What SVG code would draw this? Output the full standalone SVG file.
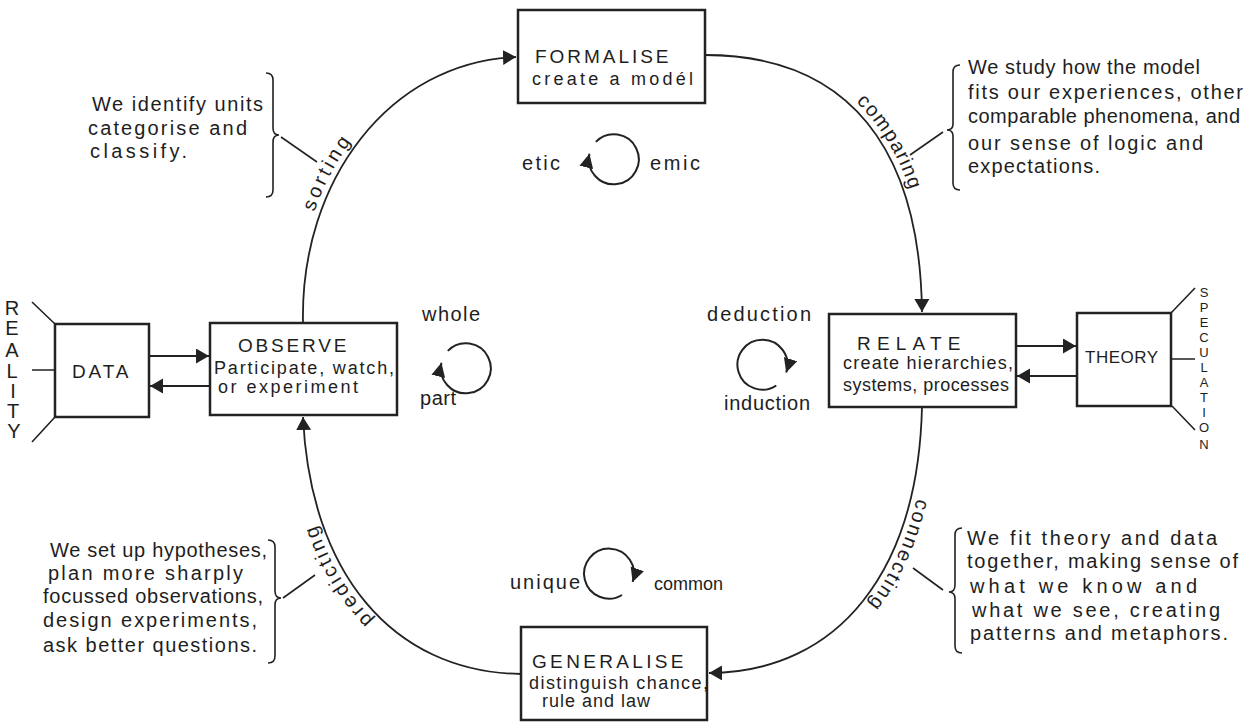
<svg xmlns="http://www.w3.org/2000/svg" xmlns:xlink="http://www.w3.org/1999/xlink" width="1254" height="724" viewBox="0 0 1254 724">
<style>
.bg{fill:#fff}
.box{fill:#fff;stroke:#222;stroke-width:2.5}
.conn{fill:none;stroke:#222;stroke-width:1.8}
.thin{fill:none;stroke:#222;stroke-width:1.6}
.cyc{fill:none;stroke:#222;stroke-width:2}
.t{font-family:"Liberation Sans",Arial,sans-serif;fill:#1e1e1e}
.ttl{font-size:19px;letter-spacing:1.5px}
.sub{font-size:18px}
.ann{font-size:20px}
.lbl{font-size:20px}
.arc{font-size:20px}
.vert{font-size:20px;text-anchor:middle}
.vs{font-size:13px;text-anchor:middle}
</style>
<defs>
<marker id="ah" markerUnits="userSpaceOnUse" markerWidth="14" markerHeight="16" refX="13" refY="7.5" orient="auto">
<path d="M0,0 L13,7.5 L0,15 z" fill="#222"/>
</marker>
<marker id="ahs" markerUnits="userSpaceOnUse" markerWidth="15" markerHeight="15" refX="14" refY="7" orient="auto">
<path d="M0,0 L14,7 L0,14 z" fill="#222"/>
</marker>
</defs>
<rect class="bg" x="0" y="0" width="1254" height="724"/>

<g id="connectors">
<path id="c-sorting" class="conn" d="M303,323 C300,180 390,62 516,57" marker-end="url(#ah)"/>
<path id="c-comparing" class="conn" d="M705,55 C850,55 920,150 922,312" marker-end="url(#ah)"/>
<path id="c-connecting" class="conn" d="M922,407 C918,570 840,672 709,673" marker-end="url(#ah)"/>
<path id="c-predicting" class="conn" d="M521,674 C390,672 310,570 303,417" marker-end="url(#ah)"/>
<line class="conn" x1="149" y1="356" x2="209" y2="356" marker-end="url(#ah)"/>
<line class="conn" x1="210" y1="386" x2="150" y2="386" marker-end="url(#ah)"/>
<line class="conn" x1="1016" y1="346" x2="1076" y2="346" marker-end="url(#ah)"/>
<line class="conn" x1="1077" y1="376" x2="1017" y2="376" marker-end="url(#ah)"/>
<text class="t arc" dy="-6" letter-spacing="3"><textPath href="#c-sorting" xlink:href="#c-sorting" startOffset="40%" text-anchor="middle">sorting</textPath></text>
<text class="t arc" dy="-6" letter-spacing="1"><textPath href="#c-comparing" xlink:href="#c-comparing" startOffset="55%" text-anchor="middle">comparing</textPath></text>
<text class="t arc" dy="-6" letter-spacing="2"><textPath href="#c-connecting" xlink:href="#c-connecting" startOffset="39%" text-anchor="middle">connecting</textPath></text>
<text class="t arc" dy="-6" letter-spacing="2.5"><textPath href="#c-predicting" xlink:href="#c-predicting" startOffset="57%" text-anchor="middle">predicting</textPath></text>
</g>

<g id="formalise">
<rect class="box" x="518" y="10" width="187" height="93"/>
<text class="t ttl" x="535" y="63" textLength="135">FORMALISE</text>
<text class="t sub" x="532" y="85" textLength="161">create a modél</text>
</g>

<g id="observe">
<rect class="box" x="210" y="323" width="187" height="92"/>
<text class="t ttl" x="238" y="352" textLength="110">OBSERVE</text>
<text class="t sub" x="214" y="374" textLength="180">Participate, watch,</text>
<text class="t sub" x="218" y="393" textLength="140">or experiment</text>
</g>

<g id="data">
<rect class="box" x="55" y="324" width="94" height="93"/>
<text class="t ttl" x="72" y="378" textLength="58">DATA</text>
<path class="thin" d="M55,324 L32,302 M55,370 L32,370 M55,417 L32,442"/>
<text class="t vert" x="12" y="315">R</text>
<text class="t vert" x="12" y="335">E</text>
<text class="t vert" x="12" y="357">A</text>
<text class="t vert" x="12" y="378">L</text>
<text class="t vert" x="13" y="398">I</text>
<text class="t vert" x="13" y="418">T</text>
<text class="t vert" x="14" y="438">Y</text>
</g>

<g id="relate">
<rect class="box" x="829" y="314" width="187" height="93"/>
<text class="t ttl" x="857" y="350" textLength="105">RELATE</text>
<text class="t sub" x="843" y="369" textLength="170">create hierarchies,</text>
<text class="t sub" x="843" y="391" textLength="166">systems, processes</text>
</g>

<g id="theory">
<rect class="box" x="1077" y="313" width="94" height="93"/>
<text class="t" x="1085" y="363" font-size="17" textLength="73">THEORY</text>
<path class="thin" d="M1171,313 L1195,288 M1172,359 L1195,359 M1172,406 L1195,430"/>
<text class="t vs" x="1204" y="297">S</text>
<text class="t vs" x="1204" y="312">P</text>
<text class="t vs" x="1204" y="327">E</text>
<text class="t vs" x="1204" y="342">C</text>
<text class="t vs" x="1204" y="357">U</text>
<text class="t vs" x="1204" y="372">L</text>
<text class="t vs" x="1204" y="387">A</text>
<text class="t vs" x="1204" y="402">T</text>
<text class="t vs" x="1204" y="417">I</text>
<text class="t vs" x="1204" y="432">O</text>
<text class="t vs" x="1204" y="449">N</text>
</g>

<g id="generalise">
<rect class="box" x="521" y="627" width="186" height="93"/>
<text class="t ttl" x="532" y="668" textLength="153">GENERALISE</text>
<text class="t sub" x="529" y="689" textLength="179">distinguish chance,</text>
<text class="t sub" x="542" y="707" textLength="108">rule and law</text>
</g>

<g id="cycle-etic-emic">
<path class="cyc" d="M595.8,141.9 A25,25 0 1 1 589.4,153.7" marker-end="url(#ahs)"/>
<text class="t lbl" x="522" y="170" textLength="38">etic</text>
<text class="t lbl" x="650" y="170" textLength="50">emic</text>
</g>

<g id="cycle-whole-part">
<path class="cyc" d="M447.8,350.9 A25,25 0 1 1 441.4,362.7" marker-end="url(#ahs)"/>
<text class="t lbl" x="422" y="321" textLength="58">whole</text>
<text class="t lbl" x="420" y="405" textLength="36">part</text>
</g>

<g id="cycle-deduction-induction">
<path class="cyc" d="M776.3,385.5 A25,25 0 1 1 786.2,372.5" marker-end="url(#ahs)"/>
<text class="t lbl" x="707" y="321" textLength="104">deduction</text>
<text class="t lbl" x="724" y="410" textLength="86">induction</text>
</g>

<g id="cycle-unique-common">
<path class="cyc" d="M622,595 A25,25 0 1 1 632.6,582" marker-end="url(#ahs)"/>
<text class="t lbl" x="510" y="589" textLength="70">unique</text>
<text class="t" x="654" y="590" font-size="18" textLength="69">common</text>
</g>

<g id="note-sorting">
<path class="thin" d="M266,73 Q273,73 273,80 L273,128 Q273,135 279,135 Q273,135 273,142 L273,190 Q273,197 266,197"/>
<line class="thin" x1="281" y1="137" x2="317" y2="162"/>
<text class="t ann" x="92" y="111" textLength="171">We identify units</text>
<text class="t ann" x="88" y="135" textLength="159">categorise and</text>
<text class="t ann" x="90" y="158" textLength="97">classify.</text>
</g>

<g id="note-comparing">
<path class="thin" d="M960,65 Q953,65 953,72 L953,124 Q953,130 947,130 Q953,130 953,136 L953,183 Q953,190 960,190"/>
<line class="thin" x1="943" y1="132" x2="910" y2="155"/>
<text class="t ann" x="968" y="74" textLength="232">We study how the model</text>
<text class="t ann" x="968" y="99" textLength="275">fits our experiences, other</text>
<text class="t ann" x="968" y="123" textLength="272">comparable phenomena, and</text>
<text class="t ann" x="968" y="150" textLength="235">our sense of logic and</text>
<text class="t ann" x="968" y="173" textLength="132">expectations.</text>
</g>

<g id="note-predicting">
<path class="thin" d="M268,540 Q275,540 275,547 L275,591 Q275,598 281,598 Q275,598 275,605 L275,656 Q275,663 268,663"/>
<line class="thin" x1="283" y1="598" x2="315" y2="575"/>
<text class="t ann" x="50" y="557" textLength="217">We set up hypotheses,</text>
<text class="t ann" x="48" y="580" textLength="195">plan more sharply</text>
<text class="t ann" x="43" y="603" textLength="220">focussed observations,</text>
<text class="t ann" x="43" y="627" textLength="214">design experiments,</text>
<text class="t ann" x="43" y="652" textLength="214">ask better questions.</text>
</g>

<g id="note-connecting">
<path class="thin" d="M962,528 Q955,528 955,535 L955,585 Q955,592 949,592 Q955,592 955,599 L955,646 Q955,653 962,653"/>
<line class="thin" x1="913" y1="568" x2="943" y2="590"/>
<text class="t ann" x="967" y="545" textLength="250">We fit theory and data</text>
<text class="t ann" x="967" y="568" textLength="271">together, making sense of</text>
<text class="t ann" x="970" y="593" textLength="227">what we know and</text>
<text class="t ann" x="972" y="617" textLength="248">what we see, creating</text>
<text class="t ann" x="970" y="640" textLength="258">patterns and metaphors.</text>
</g>
</svg>
